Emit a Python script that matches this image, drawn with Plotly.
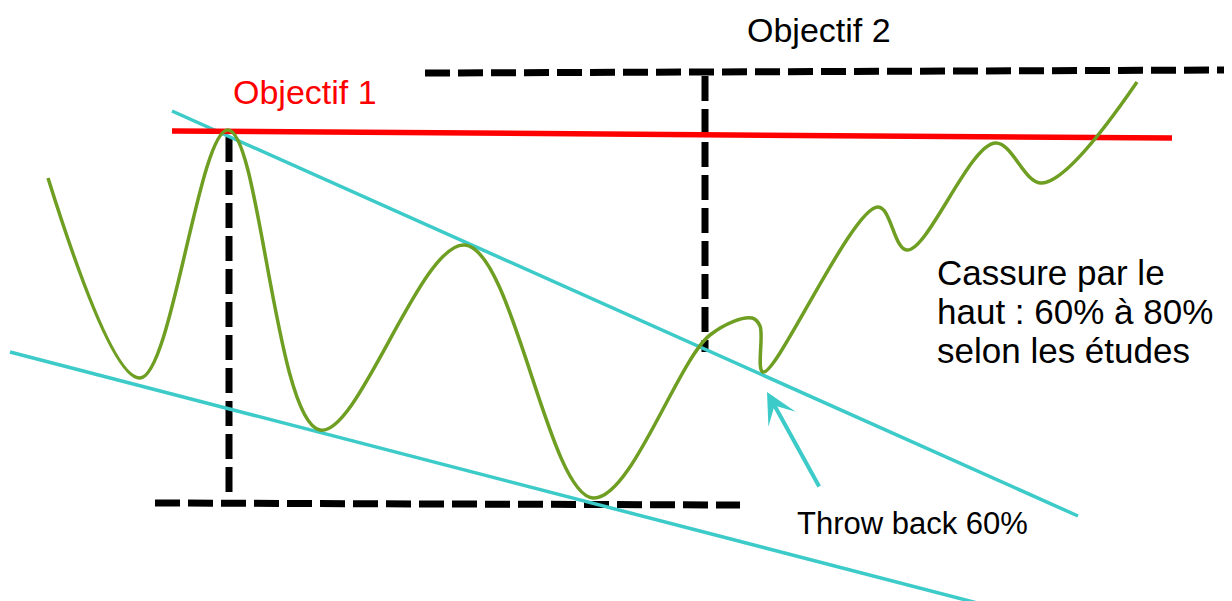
import plotly.graph_objects as go

# Green price curve (key points, pixel-like coordinates)
price_x = [48, 140, 228, 320, 465, 593, 710, 752, 760, 763, 878, 907, 995, 1042, 1137]
price_y = [178, 378, 130, 430, 245, 498, 335, 318, 326, 372, 207, 250, 143, 183, 82]

# Wedge lines (cyan)
upper_x = [172, 1078]
upper_y = [111, 516]
lower_x = [10, 985]
lower_y = [352, 605]

# Objectif 1 (red)
obj1_x = [172, 1172]
obj1_y = [131, 138]

# Dashed measurement lines (black)
top_dash_x = [425, 1232]
top_dash_y = [73, 70]
right_vert_x = [705, 705]
right_vert_y = [76, 352]
left_vert_x = [229, 229]
left_vert_y = [137, 502]
bottom_dash_x = [155, 740]
bottom_dash_y = [503, 505]

GREEN = "#6E9E22"
CYAN = "#3CCBC8"
RED = "#FF0000"

fig = go.Figure()

dash = "25px,8px"
for xs, ys in [(top_dash_x, top_dash_y), (right_vert_x, right_vert_y),
               (left_vert_x, left_vert_y), (bottom_dash_x, bottom_dash_y)]:
    fig.add_trace(go.Scatter(x=xs, y=ys, mode="lines",
                             line=dict(color="black", width=7, dash=dash),
                             hoverinfo="skip", showlegend=False))

fig.add_trace(go.Scatter(x=upper_x, y=upper_y, mode="lines",
                         line=dict(color=CYAN, width=3.5), showlegend=False))
fig.add_trace(go.Scatter(x=lower_x, y=lower_y, mode="lines",
                         line=dict(color=CYAN, width=3.5), showlegend=False))
fig.add_trace(go.Scatter(x=obj1_x, y=obj1_y, mode="lines",
                         line=dict(color=RED, width=5.5), showlegend=False))
fig.add_trace(go.Scatter(x=price_x, y=price_y, mode="lines",
                         line=dict(color=GREEN, width=3.5, shape="spline", smoothing=1.0),
                         showlegend=False))

font = "Liberation Sans, Arial, sans-serif"
annotations = [
    dict(x=745, y=30, text="Objectif 2", color="black", size=34),
    dict(x=231, y=92, text="Objectif 1", color=RED, size=34),
    dict(x=935, y=272, text="Cassure par le", color="black", size=35),
    dict(x=935, y=311, text="haut : 60% à 80%", color="black", size=35),
    dict(x=935, y=350, text="selon les études", color="black", size=35),
    dict(x=795, y=523, text="Throw back 60%", color="black", size=31),
]
for a in annotations:
    fig.add_annotation(x=a["x"], y=a["y"], xref="x", yref="y", text=a["text"],
                       showarrow=False, xanchor="left", yanchor="middle",
                       font=dict(family=font, size=a["size"], color=a["color"]))

# Throw back arrow
fig.add_annotation(x=767, y=392, ax=820, ay=488, xref="x", yref="y", axref="x", ayref="y",
                   text="", showarrow=True, arrowhead=3, arrowsize=1.3, arrowwidth=4,
                   arrowcolor=CYAN)

# The page adds an 8px body margin, so the plot starts at pixel 8
fig.update_layout(
    width=1224, height=593,
    margin=dict(l=0, r=0, t=0, b=0),
    paper_bgcolor="white", plot_bgcolor="white",
    xaxis=dict(range=[8, 1232], visible=False, fixedrange=True),
    yaxis=dict(range=[601, 8], visible=False, fixedrange=True),
)

fig.write_html("out.html")
